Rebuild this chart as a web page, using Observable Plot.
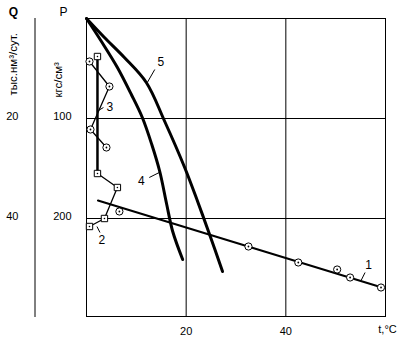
<!DOCTYPE html>
<html>
<head>
<meta charset="utf-8">
<script src="https://cdn.jsdelivr.net/npm/d3@7"></script>
<script src="https://cdn.jsdelivr.net/npm/@observablehq/plot@0.6"></script>
<style>
  body { margin: 0; background: #fff; }
</style>
</head>
<body>
<div id="chart"></div>
<script>
// ---- data (t, °C ; P, кгс/см²) ----
const curve5 = [[0,0],[3.6,19],[7.6,39],[12.0,64],[15.7,103],[19.7,149],[22.3,183],[24.7,216],[27.3,253]];
const curve4 = [[0,0],[3.0,23],[6.2,49],[9.0,76],[11.2,99],[13.1,126],[14.7,153],[16.1,186],[17.3,213],[19.3,241]];
const line1 = [[2.3,182],[59.3,269]];
const points1 = [[6.6,193],[32.5,228],[42.5,244],[50.3,251],[52.9,259],[59.1,269]];
const curve3 = [[0.6,43],[4.6,68],[0.8,111],[4.0,129]];
const curve2Thick = [[2.2,38],[2.2,155]];
const curve2Thin = [[2.2,155],[6.2,169],[3.6,200],[0.6,208]];
const points2 = [[2.2,38],[2.2,155],[6.2,169],[3.6,200],[0.6,208]];
const curveLabels = [
  {n:"1", x:56.6, y:247, lx1:55.9, ly1:254, lx2:55.1, ly2:262},
  {n:"2", x:3.1,  y:222, lx1:2.7,  ly1:214, lx2:2.1,  ly2:208},
  {n:"3", x:4.7,  y:89,  lx1:3.4,  ly1:89,  lx2:2.4,  ly2:92},
  {n:"4", x:11.0, y:163, lx1:12.6, ly1:159, lx2:14.6, ly2:154},
  {n:"5", x:14.9, y:44,  lx1:13.7, ly1:51,  lx2:12.2, ly2:64}
];
const xTicks = [20, 40];
const pTicks = [100, 200];
const qTicks = [20, 40];          // Q = P / 5
const xDomain = [0, 60];
const pDomain = [0, 298];
const unitLabels = [
  {text: "тыс.нм³/сут.", y: 77, dx: -73},
  {text: "кгс/см³", y: 79, dx: -28}
];

const font = "'Liberation Sans', Arial, sans-serif";

// Q axis line drawn through the scales (outside the frame)
function qAxisLine(index, scales, values, dims) {
  const x = dims.marginLeft - 51;
  const line = document.createElementNS("http://www.w3.org/2000/svg", "line");
  line.setAttribute("x1", x); line.setAttribute("x2", x);
  line.setAttribute("y1", scales.y(pDomain[0])); line.setAttribute("y2", scales.y(pDomain[1]) + 1);
  line.setAttribute("stroke", "black"); line.setAttribute("stroke-width", 1);
  return line;
}

const titleOpts = {frameAnchor: "top-left", textAnchor: "middle", lineAnchor: "middle", fill: "black"};

const chart = Plot.plot({
  width: 412,
  height: 344,
  marginLeft: 86,
  marginRight: 27,
  marginTop: 18,
  marginBottom: 28,
  style: {fontFamily: font, fontSize: "11px", color: "black", background: "white"},
  x: {domain: xDomain, label: null},
  y: {domain: pDomain, reverse: true, label: null},
  marks: [
    Plot.ruleX(xTicks, {stroke: "black", strokeWidth: 1, strokeOpacity: 1}),
    Plot.ruleY(pTicks, {stroke: "black", strokeWidth: 1, strokeOpacity: 1}),
    Plot.frame({stroke: "black", strokeWidth: 1}),
    Plot.axisX(xTicks, {tickSize: 0, tickPadding: 11, label: null, fontSize: 11}),
    Plot.axisY(pTicks, {tickSize: 0, tickPadding: 15, label: null, dy: -2, fontSize: 11}),
    Plot.axisY(qTicks.map(q => q * 5), {tickSize: 0, tickPadding: 68, tickFormat: d => d / 5, label: null, dy: -2, fontSize: 11}),
    qAxisLine,
    // curves 4 and 5
    Plot.line(curve5, {x: d => d[0], y: d => d[1], curve: "catmull-rom", stroke: "black", strokeWidth: 3}),
    Plot.line(curve4, {x: d => d[0], y: d => d[1], curve: "catmull-rom", stroke: "black", strokeWidth: 3}),
    // line 1
    Plot.line(line1, {x: d => d[0], y: d => d[1], stroke: "black", strokeWidth: 2}),
    // curve 3
    Plot.line(curve3, {x: d => d[0], y: d => d[1], stroke: "black", strokeWidth: 1.3}),
    // curve 2
    Plot.line(curve2Thick, {x: d => d[0], y: d => d[1], stroke: "black", strokeWidth: 2.5}),
    Plot.line(curve2Thin, {x: d => d[0], y: d => d[1], stroke: "black", strokeWidth: 1.3}),
    // markers
    Plot.dot(points1, {x: d => d[0], y: d => d[1], r: 3.6, fill: "white", stroke: "black", strokeWidth: 1}),
    Plot.dot(points1, {x: d => d[0], y: d => d[1], r: 0.9, fill: "black"}),
    Plot.dot(curve3, {x: d => d[0], y: d => d[1], r: 3.6, fill: "white", stroke: "black", strokeWidth: 1}),
    Plot.dot(curve3, {x: d => d[0], y: d => d[1], r: 0.9, fill: "black"}),
    Plot.dot(points2, {x: d => d[0], y: d => d[1], symbol: "square", r: 3.6, fill: "white", stroke: "black", strokeWidth: 1}),
    Plot.dot(points2, {x: d => d[0], y: d => d[1], r: 0.8, fill: "black"}),
    // curve labels with leaders
    Plot.link(curveLabels, {x1: "lx1", y1: "ly1", x2: "lx2", y2: "ly2", stroke: "black", strokeWidth: 1}),
    Plot.text(curveLabels, {x: "x", y: "y", text: "n", fontSize: 12, fill: "black"}),
    // axis titles
    Plot.text(["Q"], {...titleOpts, dx: -73, dy: -6, fontSize: 12, fontWeight: "bold"}),
    Plot.text(["P"], {...titleOpts, dx: -23, dy: -6, fontSize: 12}),
    Plot.text([unitLabels[0]], {y: "y", text: "text", frameAnchor: "left", dx: unitLabels[0].dx, rotate: -90, textAnchor: "start", lineAnchor: "middle", fontSize: 11.5, fill: "black"}),
    Plot.text([unitLabels[1]], {y: "y", text: "text", frameAnchor: "left", dx: unitLabels[1].dx, rotate: -90, textAnchor: "start", lineAnchor: "middle", fontSize: 11.5, fill: "black"}),
    Plot.text(["t,°C"], {frameAnchor: "bottom-right", textAnchor: "middle", lineAnchor: "middle", dx: 2, dy: 13, fontSize: 11, fill: "black"})
  ]
});
document.getElementById("chart").appendChild(chart);
</script>
</body>
</html>
